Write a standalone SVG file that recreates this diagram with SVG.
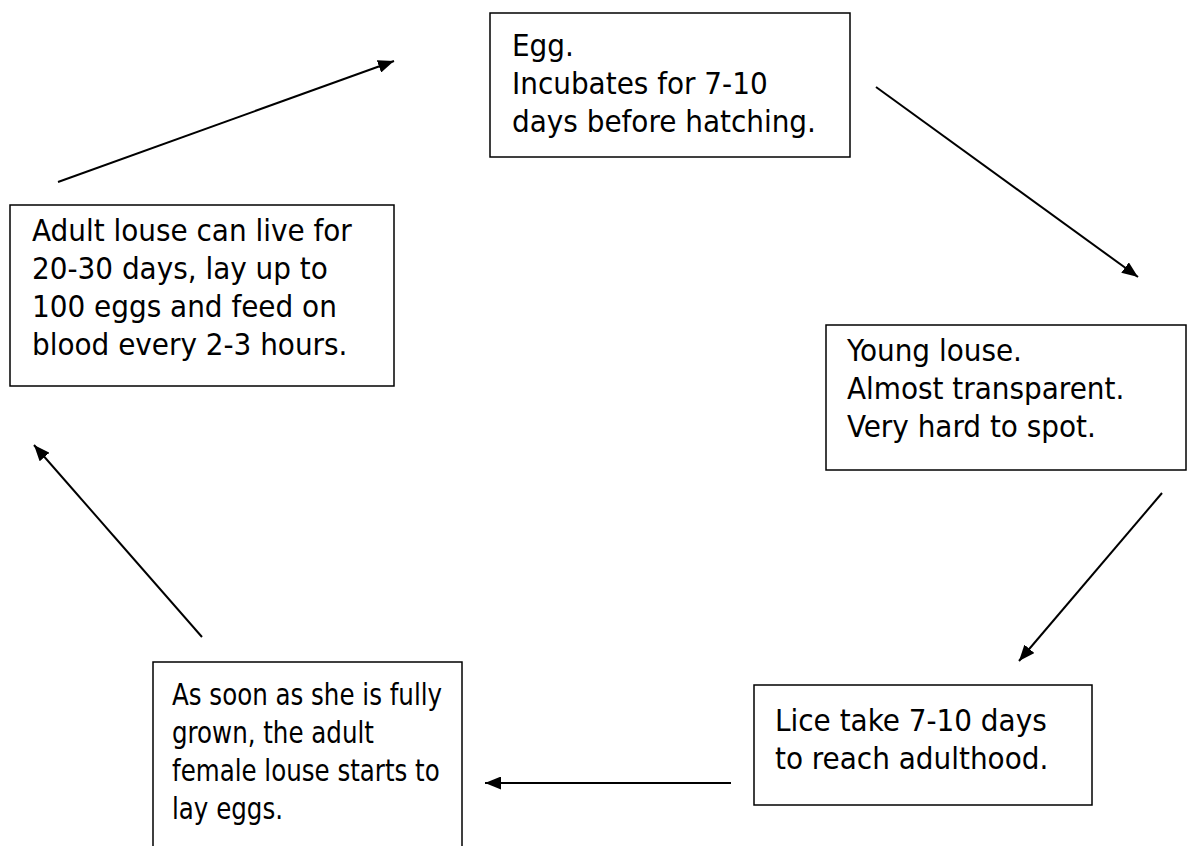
<svg xmlns="http://www.w3.org/2000/svg" width="1188" height="846" viewBox="0 0 1188 846">
<style>
.box{fill:#fff;stroke:#000;stroke-width:1.5}
.t{font-family:'DejaVu Sans Condensed','DejaVu Sans',sans-serif;font-stretch:condensed;font-size:31px;fill:#000}
.c{stroke:#000;stroke-width:2;fill:none;marker-end:url(#ah)}
</style>
<defs>
<marker id="ah" markerUnits="userSpaceOnUse" markerWidth="17" markerHeight="13" refX="16" refY="6.5" orient="auto">
<path d="M0,0 L16,6.5 L0,13 z" fill="#000"/>
</marker>
</defs>
<rect width="1188" height="846" fill="#fff"/>
<g id="egg">
<rect class="box" x="490" y="13" width="360" height="144"/>
<text class="t" x="512" y="56">Egg.</text>
<text class="t" x="512" y="94">Incubates for 7-10</text>
<text class="t" x="512" y="132">days before hatching.</text>
</g>
<g id="young">
<rect class="box" x="826" y="325" width="360" height="145"/>
<text class="t" x="847" y="361">Young louse.</text>
<text class="t" x="847" y="399">Almost transparent.</text>
<text class="t" x="847" y="437">Very hard to spot.</text>
</g>
<g id="lice">
<rect class="box" x="754" y="685" width="338" height="120"/>
<text class="t" x="775" y="731">Lice take 7-10 days</text>
<text class="t" x="775" y="769">to reach adulthood.</text>
</g>
<g id="female">
<rect class="box" x="153" y="662" width="309" height="200"/>
<g transform="translate(172,0) scale(0.88,1)">
<text class="t" x="0" y="705">As soon as she is fully</text>
<text class="t" x="0" y="743">grown, the adult</text>
<text class="t" x="0" y="781">female louse starts to</text>
<text class="t" x="0" y="819">lay eggs.</text>
</g>
</g>
<g id="adult">
<rect class="box" x="10" y="205" width="384" height="181"/>
<text class="t" x="32" y="241">Adult louse can live for</text>
<text class="t" x="32" y="279">20-30 days, lay up to</text>
<text class="t" x="32" y="317">100 eggs and feed on</text>
<text class="t" x="32" y="355">blood every 2-3 hours.</text>
</g>
<g id="connectors">
<line class="c" x1="58" y1="182" x2="394" y2="61"/>
<line class="c" x1="876" y1="87" x2="1138" y2="277"/>
<line class="c" x1="1162" y1="493" x2="1019" y2="661"/>
<line class="c" x1="731" y1="783" x2="485" y2="783"/>
<line class="c" x1="202" y1="637" x2="34" y2="445"/>
</g>
</svg>
